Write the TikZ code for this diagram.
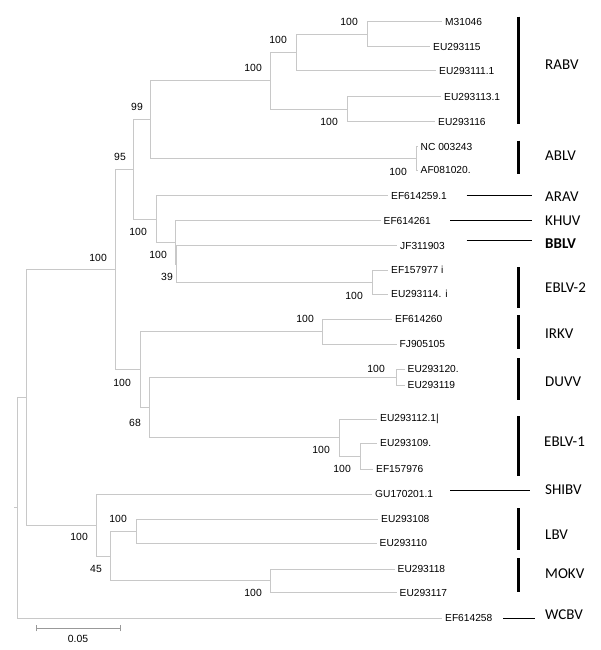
\documentclass[tikz,border=0pt]{standalone}
\usepackage{fontspec}
\setmainfont{Liberation Sans}
\newfontfamily\cladefont{Carlito}
\definecolor{treegray}{RGB}{200,200,200}
\begin{document}
\begin{tikzpicture}[x=1pt,y=-1pt,
  branch/.style={draw=treegray,line width=1pt},
  leaf/.style={anchor=west,inner xsep=3pt,inner ysep=0pt,font=\fontsize{10.2}{12}\selectfont},
  boot/.style={anchor=east,inner sep=0pt,font=\fontsize{10.4}{12}\selectfont},
  clade/.style={anchor=west,inner sep=0pt,font=\fontsize{15}{18}\cladefont},
  cladebar/.style={draw=black,line width=3pt},
  cladeline/.style={draw=black,line width=1pt}]
\useasboundingbox (0,0) rectangle (600,650);
% internal nodes
\coordinate (a1) at (367.7,34.3);
\coordinate (a2) at (296.7,52.7);
\coordinate (a4) at (347.7,109.2);
\coordinate (a3) at (270,81);
\coordinate (ab) at (416.7,158.3);
\coordinate (a5) at (150.7,119.7);
\coordinate (e2) at (372.7,282.2);
\coordinate (n9) at (176.7,264);
\coordinate (n8) at (175.3,242.3);
\coordinate (n7) at (156,219);
\coordinate (n6) at (133.3,169.3);
\coordinate (ir) at (322.7,331.7);
\coordinate (du) at (396.7,377.2);
\coordinate (e1b) at (360,456.2);
\coordinate (e1) at (339.3,437.6);
\coordinate (de) at (149.3,407.4);
\coordinate (ide) at (140,369.5);
\coordinate (r1) at (115.7,269.4);
\coordinate (lb) at (136.7,531.2);
\coordinate (mk) at (270,580.8);
\coordinate (lm) at (110,556);
\coordinate (sl) at (96.7,525.2);
\coordinate (r2) at (26.7,397.3);
\coordinate (root) at (17,507.8);
\coordinate (rootstub) at (14,507.8);
% leaves
\node[leaf] (l1) at (442,22) {M31046};
\node[leaf] (l2) at (430,46.7) {EU293115};
\node[leaf] (l3) at (436,71) {EU293111.1};
\node[leaf] (l4) at (441,96.7) {EU293113.1};
\node[leaf] (l5) at (435,121.7) {EU293116};
\node[leaf] (l6) at (417.5,146.7) {NC 003243};
\node[leaf] (l7) at (417.5,170) {AF081020.};
\node[leaf] (l8) at (388,195.7) {EF614259.1};
\node[leaf] (l9) at (380.5,220.7) {EF614261};
\node[leaf] (l10) at (397,245.7) {JF311903};
\node[leaf] (l11) at (388,270) {EF157977 i};
\node[leaf] (l12) at (388,294.3) {EU293114. i};
\node[leaf] (l13) at (392,319.3) {EF614260};
\node[leaf] (l14) at (396.5,344) {FJ905105};
\node[leaf] (l15) at (404.5,369.3) {EU293120.};
\node[leaf] (l16) at (404.5,385) {EU293119};
\node[leaf] (l17) at (377,419) {EU293112.1|};
\node[leaf] (l18) at (377,443.3) {EU293109.};
\node[leaf] (l19) at (373,469) {EF157976};
\node[leaf] (l20) at (372,494.3) {GU170201.1};
\node[leaf] (l21) at (378,519) {EU293108};
\node[leaf] (l22) at (376.5,543.3) {EU293110};
\node[leaf] (l23) at (394.5,569) {EU293118};
\node[leaf] (l24) at (396.5,592.7) {EU293117};
\node[leaf] (l25) at (442,618.3) {EF614258};
% branches
\draw[branch] (a1) |- (l1.west) (a1) |- (l2.west);
\draw[branch] (a2) |- (a1) (a2) |- (l3.west);
\draw[branch] (a4) |- (l4.west) (a4) |- (l5.west);
\draw[branch] (a3) |- (a2) (a3) |- (a4);
\draw[branch] (ab) |- (l6.west) (ab) |- (l7.west);
\draw[branch] (a5) |- (a3) (a5) |- (ab);
\draw[branch] (e2) |- (l11.west) (e2) |- (l12.west);
\draw[branch] (n9) |- (l10.west) (n9) |- (e2);
\draw[branch] (n8) |- (l9.west) (n8) |- (n9);
\draw[branch] (n7) |- (l8.west) (n7) |- (n8);
\draw[branch] (n6) |- (a5) (n6) |- (n7);
\draw[branch] (ir) |- (l13.west) (ir) |- (l14.west);
\draw[branch] (du) |- (l15.west) (du) |- (l16.west);
\draw[branch] (e1b) |- (l18.west) (e1b) |- (l19.west);
\draw[branch] (e1) |- (l17.west) (e1) |- (e1b);
\draw[branch] (de) |- (du) (de) |- (e1);
\draw[branch] (ide) |- (ir) (ide) |- (de);
\draw[branch] (r1) |- (n6) (r1) |- (ide);
\draw[branch] (lb) |- (l21.west) (lb) |- (l22.west);
\draw[branch] (mk) |- (l23.west) (mk) |- (l24.west);
\draw[branch] (lm) |- (lb) (lm) |- (mk);
\draw[branch] (sl) |- (l20.west) (sl) |- (lm);
\draw[branch] (r2) |- (r1) (r2) |- (sl);
\draw[branch] (root) |- (r2) (root) |- (l25.west);
\draw[branch] (rootstub) -- (root);
% bootstrap values
\node[boot] (b1) at (358,22) {100};
\node[boot] (b2) at (287,40) {100};
\node[boot] (b3) at (262,68) {100};
\node[boot] (b4) at (338,121.7) {100};
\node[boot] (b5) at (407,172) {100};
\node[boot] (b6) at (143,107) {99};
\node[boot] (b7) at (126,157) {95};
\node[boot] (b8) at (147,231.7) {100};
\node[boot] (b9) at (167,255) {100};
\node[boot] (b10) at (173,276.7) {39};
\node[boot] (b11) at (363,296) {100};
\node[boot] (b12) at (314,319.3) {100};
\node[boot] (b13) at (385,369.3) {100};
\node[boot] (b14) at (131,383.3) {100};
\node[boot] (b15) at (141,423) {68};
\node[boot] (b16) at (330,450) {100};
\node[boot] (b17) at (351,469) {100};
\node[boot] (b18) at (107,257.7) {100};
\node[boot] (b19) at (88,537.3) {100};
\node[boot] (b20) at (102,569) {45};
\node[boot] (b21) at (127,519) {100};
\node[boot] (b22) at (262,593.3) {100};
% clade bars and lines
\coordinate (rabvT) at (518.3,16.7); \coordinate (rabvB) at (518.3,124);
\coordinate (ablvT) at (518.3,140.7); \coordinate (ablvB) at (518.3,174);
\coordinate (e2T) at (518.3,267.3); \coordinate (e2B) at (518.3,307.7);
\coordinate (irT) at (518.3,315); \coordinate (irB) at (518.3,349.3);
\coordinate (duT) at (518.3,358.3); \coordinate (duB) at (518.3,400);
\coordinate (e1T) at (518.3,416); \coordinate (e1B) at (518.3,476);
\coordinate (lbT) at (518.3,508.3); \coordinate (lbB) at (518.3,550);
\coordinate (mkT) at (518.3,558.3); \coordinate (mkB) at (518.3,591.7);
\draw[cladebar] (rabvT) -- (rabvB);
\draw[cladebar] (ablvT) -- (ablvB);
\draw[cladebar] (e2T) -- (e2B);
\draw[cladebar] (irT) -- (irB);
\draw[cladebar] (duT) -- (duB);
\draw[cladebar] (e1T) -- (e1B);
\draw[cladebar] (lbT) -- (lbB);
\draw[cladebar] (mkT) -- (mkB);
\coordinate (aravA) at (466.7,195.7); \coordinate (aravB) at (532,195.7);
\coordinate (khuvA) at (450,220.7); \coordinate (khuvB) at (532,220.7);
\coordinate (bblvA) at (466.7,240.7); \coordinate (bblvB) at (532,240.7);
\coordinate (shibA) at (450,490.7); \coordinate (shibB) at (530,490.7);
\coordinate (wcbA) at (503.3,618.3); \coordinate (wcbB) at (535,618.3);
\draw[cladeline] (aravA) -- (aravB);
\draw[cladeline] (khuvA) -- (khuvB);
\draw[cladeline] (bblvA) -- (bblvB);
\draw[cladeline] (shibA) -- (shibB);
\draw[cladeline] (wcbA) -- (wcbB);
\node[clade] (cRABV) at (545,65) {RABV};
\node[clade] (cABLV) at (545,155.7) {ABLV};
\node[clade] (cARAV) at (545,196.7) {ARAV};
\node[clade] (cKHUV) at (545,220.7) {KHUV};
\node[clade] (cBBLV) at (545,243.3) {\bfseries BBLV};
\node[clade] (cEBLV2) at (545,287.7) {EBLV-2};
\node[clade] (cIRKV) at (545,334) {IRKV};
\node[clade] (cDUVV) at (545,381.7) {DUVV};
\node[clade] (cEBLV1) at (544,441.7) {EBLV-1};
\node[clade] (cSHIBV) at (545,490) {SHIBV};
\node[clade] (cLBV) at (545,535) {LBV};
\node[clade] (cMOKV) at (545,573.3) {MOKV};
\node[clade] (cWCBV) at (545,615) {WCBV};
% scale bar
\coordinate (sbL) at (36.7,628.3);
\coordinate (sbR) at (120.7,628.3);
\draw[draw=gray!80,line width=0.8pt] (sbL) -- (sbR);
\draw[draw=gray!80,line width=0.8pt] ([yshift=-3pt]sbL) -- ([yshift=3pt]sbL);
\draw[draw=gray!80,line width=0.8pt] ([yshift=-3pt]sbR) -- ([yshift=3pt]sbR);
\node[inner sep=0pt,font=\fontsize{10.4}{12}\selectfont] (sbt) at (78,639.3) {0.05};
\end{tikzpicture}
\end{document}
